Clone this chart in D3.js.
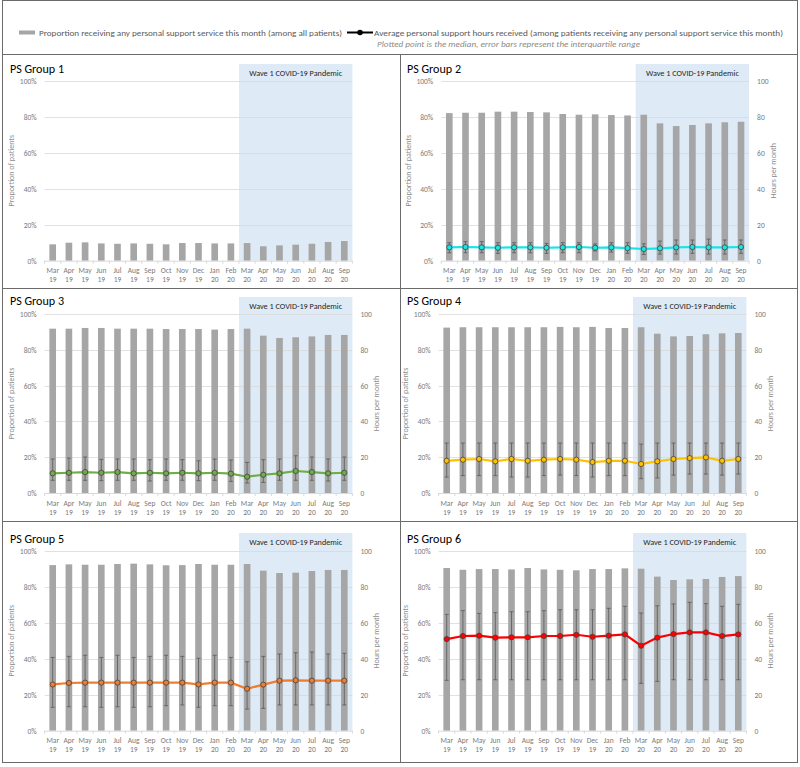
<!DOCTYPE html>
<html>
<head>
<meta charset="utf-8">
<script src="https://cdn.jsdelivr.net/npm/d3@7"></script>
<style>
  html, body { margin: 0; padding: 0; background: #fff; }
  svg { display: block; font-family: Carlito, Lato, "Open Sans", sans-serif; }
</style>
</head>
<body>
<svg id="chart" width="800" height="767"></svg>
<script>
// ---------------- DATA ----------------
const months = ["Mar","Apr","May","Jun","Jul","Aug","Sep","Oct","Nov","Dec","Jan","Feb","Mar","Apr","May","Jun","Jul","Aug","Sep"];
const years  = ["19","19","19","19","19","19","19","19","19","19","20","20","20","20","20","20","20","20","20"];
const pandemicStart = 12; // index of "Mar 20"

const groupNames = ["PS Group 1","PS Group 2","PS Group 3","PS Group 4","PS Group 5","PS Group 6"];
const lineColors = [null, "#19e3e3", "#70ad47", "#ffc000", "#ed7d31", "#ff0000"];

const g1Prop = [9.1,10.0,10.2,9.6,9.4,9.6,9.4,9.1,9.8,9.8,9.6,9.6,9.8,8.0,8.5,8.9,9.4,10.4,10.9];
const g2Prop = [82.0,82.2,82.2,82.8,82.8,82.6,82.4,81.5,81.1,81.3,80.9,80.7,81.1,76.3,74.8,75.4,76.3,76.9,77.2];
const g3Prop = [91.8,91.8,92.2,92.2,91.8,91.8,91.8,91.6,91.6,91.6,91.3,91.6,91.8,87.9,86.6,87.0,87.5,88.3,88.3];
const g4Prop = [92.4,92.6,92.6,92.6,92.6,92.6,92.6,92.8,92.6,92.8,92.2,92.2,92.6,89.0,87.5,87.7,88.7,89.2,89.4];
const g5Prop = [92.0,92.4,92.2,92.2,92.6,92.8,92.4,91.9,92.0,92.6,92.2,92.2,92.6,88.9,87.6,87.8,88.7,89.3,89.3];
const g6Prop = [90.4,89.4,89.8,89.8,89.6,90.4,89.6,89.4,89.1,89.8,89.8,90.2,90.0,85.6,83.7,84.1,84.3,85.4,85.9];

const g2Median = [7.4,7.6,7.4,7.2,7.4,7.4,7.2,7.4,7.6,7.2,7.4,7.0,6.5,6.9,7.4,7.6,7.4,7.4,7.6];
const g2Q3     = [10.0,10.6,10.6,10.0,10.0,10.0,9.6,10.0,10.0,9.3,10.0,10.0,9.4,10.9,11.5,11.5,12.0,11.5,11.5];
const g2Q1     = [4.4,4.4,4.4,4.1,4.4,4.4,4.1,4.4,4.4,5.4,4.8,4.1,3.5,3.7,3.7,4.1,3.7,3.7,4.1];

const g3Median = [11.0,11.3,11.7,11.3,11.7,11.0,11.3,11.0,11.3,11.0,11.3,10.8,9.1,10.2,11.0,12.3,11.7,11.0,11.3];
const g3Q3     = [19.0,19.5,20.1,18.8,19.0,19.0,18.6,19.0,18.6,18.0,19.0,18.4,17.1,18.6,19.0,20.8,20.1,19.0,20.1];
const g3Q1     = [7.1,7.1,7.1,6.9,7.1,7.1,6.7,7.1,7.1,6.9,7.1,6.5,5.6,5.9,7.1,7.1,7.1,6.7,7.1];

const g4Median = [18.0,18.6,19.0,17.7,19.0,18.0,18.6,19.0,18.6,17.3,18.0,18.0,16.2,17.7,19.0,19.5,19.9,18.0,19.0];
const g4Q3     = [27.9,27.9,27.9,27.9,27.9,27.9,27.9,27.9,27.9,27.9,27.9,27.9,27.3,27.9,27.9,27.9,27.9,27.9,27.9];
const g4Q1     = [8.9,9.7,9.7,9.7,8.9,8.9,9.7,10.0,9.7,8.9,9.7,9.7,8.0,8.4,10.0,10.6,10.6,10.0,10.6];

const g5Median = [25.7,26.5,26.7,26.7,26.7,26.7,26.7,26.7,26.7,25.7,26.7,26.7,23.3,25.6,27.8,28.0,27.8,27.8,27.8];
const g5Q3     = [40.7,41.3,41.9,40.7,41.9,40.7,41.3,41.9,41.3,40.2,41.9,40.7,38.3,41.3,42.6,43.3,43.7,42.6,43.0];
const g5Q1     = [13.0,13.3,13.3,13.0,13.3,13.0,13.3,13.9,14.3,13.0,13.9,13.9,12.0,12.4,14.3,14.3,14.3,14.3,14.3];

const g6Median = [50.9,52.6,52.8,51.7,51.9,51.9,52.6,52.6,53.3,52.2,52.8,53.5,47.2,51.7,53.7,54.6,54.6,52.6,53.5];
const g6Q3     = [64.6,66.7,65.2,65.6,66.1,66.1,66.7,67.2,67.2,67.2,68.0,69.1,65.4,69.4,70.4,71.3,70.6,69.1,70.2];
const g6Q1     = [28.0,28.3,28.3,28.3,28.3,28.3,28.3,28.3,28.3,28.3,28.3,28.3,26.3,27.4,28.3,28.3,28.3,28.3,28.3];

const propTicks = [0,20,40,60,80,100];
const hourTicks = [0,20,40,60,80,100];

const props   = [g1Prop, g2Prop, g3Prop, g4Prop, g5Prop, g6Prop];
const medians = [null, g2Median, g3Median, g4Median, g5Median, g6Median];
const q3s     = [null, g2Q3, g3Q3, g4Q3, g5Q3, g6Q3];
const q1s     = [null, g2Q1, g3Q1, g4Q1, g5Q1, g6Q1];

// ---------------- LAYOUT ----------------
const layout = [
  {cx:3,   x0:44.6,  x1:352.4, y0:260.7, y1:80.7, shadeTop:64,  titleY:73,  leftTitleX:14,  rightTitleX:null},
  {cx:400, x0:441.2, x1:749.1, y0:260.7, y1:80.7, shadeTop:64,  titleY:73,  leftTitleX:411, rightTitleX:776},
  {cx:3,   x0:44.6,  x1:352.4, y0:493,   y1:314,  shadeTop:297, titleY:305, leftTitleX:14,  rightTitleX:379},
  {cx:400, x0:438.6, x1:746.4, y0:493,   y1:314,  shadeTop:297, titleY:305, leftTitleX:408, rightTitleX:773},
  {cx:3,   x0:44.6,  x1:352.4, y0:730.7, y1:550.7,shadeTop:533, titleY:543, leftTitleX:14,  rightTitleX:379},
  {cx:400, x0:438.6, x1:746.4, y0:730.7, y1:550.7,shadeTop:533, titleY:543, leftTitleX:408, rightTitleX:773}
];

const svg = d3.select("#chart");
const keys = months.map((m,i) => m + " " + years[i]);
const txt = "#595959", grid = "#d9d9d9", border = "#6b6b6b", tickCol = "#7a7a7a";

// outer frame and dividers
svg.append("rect").attr("x",2.5).attr("y",0.5).attr("width",795).attr("height",762)
   .attr("fill","none").attr("stroke",border).attr("stroke-width",1);
[54.5, 288.5, 521.5].forEach(yy =>
  svg.append("line").attr("x1",2.5).attr("x2",797.5).attr("y1",yy).attr("y2",yy).attr("stroke",border));
svg.append("line").attr("x1",400.5).attr("x2",400.5).attr("y1",54.5).attr("y2",762.5).attr("stroke",border);

// legend
const leg = svg.append("g");
leg.append("rect").attr("x",19).attr("y",30.5).attr("width",16).attr("height",4).attr("fill","#a6a6a6");
leg.append("text").attr("x",39).attr("y",35.5).attr("font-size",8.5).attr("fill",txt)
   .attr("textLength",303).attr("lengthAdjust","spacingAndGlyphs")
   .text("Proportion receiving any personal support service this month (among all patients)");
leg.append("line").attr("x1",347).attr("x2",373).attr("y1",32.5).attr("y2",32.5).attr("stroke","#000").attr("stroke-width",2);
leg.append("circle").attr("cx",360).attr("cy",32.5).attr("r",2.8).attr("fill","#000");
leg.append("text").attr("x",374).attr("y",35.5).attr("font-size",8.5).attr("fill",txt)
   .attr("textLength",409).attr("lengthAdjust","spacingAndGlyphs")
   .text("Average personal support hours received (among patients receiving any personal support service this month)");
leg.append("text").attr("x",377).attr("y",47).attr("font-size",8).attr("font-style","italic").attr("fill","#8c8c8c")
   .attr("textLength",263).attr("lengthAdjust","spacingAndGlyphs")
   .text("Plotted point is the median, error bars represent the interquartile range");

// panels
layout.forEach((L, gi) => {
  const g = svg.append("g");
  const x = d3.scaleBand().domain(keys).range([L.x0, L.x1]).paddingInner(0.59).paddingOuter(0.295);
  const xb = d3.scaleBand().domain(keys).range([L.x0, L.x1]);
  const yP = d3.scaleLinear().domain([0,100]).range([L.y0, L.y1]);
  const yH = d3.scaleLinear().domain([0,100]).range([L.y0, L.y1]);

  // pandemic shading
  const sx = xb(keys[pandemicStart]);
  g.append("rect").attr("x",sx).attr("y",L.shadeTop).attr("width",L.x1 - sx).attr("height",L.y0 - L.shadeTop)
   .attr("fill","#deebf7");
  g.append("text").attr("x",(sx + L.x1)/2).attr("y",L.shadeTop + 11.5).attr("text-anchor","middle")
   .attr("font-size",9).attr("fill","#262626").attr("textLength",93).attr("lengthAdjust","spacingAndGlyphs")
   .text("Wave 1 COVID-19 Pandemic");

  // gridlines
  g.selectAll("line.grid").data(propTicks.slice(1)).enter().append("line").attr("class","grid")
   .attr("x1",L.x0).attr("x2",L.x1).attr("y1",d=>Math.round(yP(d))+0.5).attr("y2",d=>Math.round(yP(d))+0.5)
   .attr("stroke",grid).attr("stroke-width",0.8);

  // left axis
  const la = g.append("g").attr("transform",`translate(${L.x0},0)`)
    .call(d3.axisLeft(yP).tickValues(propTicks).tickFormat(d=>d+"%").tickSize(0).tickPadding(8));
  la.select(".domain").remove();
  la.selectAll("text").attr("fill",tickCol).attr("font-size",7.5).attr("font-family","Carlito, Lato, sans-serif");

  // right axis
  if (medians[gi]) {
    const ra = g.append("g").attr("transform",`translate(${L.x1},0)`)
      .call(d3.axisRight(yH).tickValues(hourTicks).tickSize(0).tickPadding(8));
    ra.select(".domain").remove();
    ra.selectAll("text").attr("fill",tickCol).attr("font-size",7.5).attr("font-family","Carlito, Lato, sans-serif");
    g.append("text").attr("transform",`translate(${L.rightTitleX},${(L.y0+L.y1)/2}) rotate(-90)`)
     .attr("text-anchor","middle").attr("font-size",8).attr("fill","#8c8c8c").text("Hours per month");
  }
  g.append("text").attr("transform",`translate(${L.leftTitleX},${(L.y0+L.y1)/2}) rotate(-90)`)
   .attr("text-anchor","middle").attr("font-size",8).attr("fill","#8c8c8c").text("Proportion of patients");

  // bars
  g.selectAll("rect.bar").data(props[gi]).enter().append("rect").attr("class","bar")
   .attr("x",(d,i)=>x(keys[i])).attr("width",x.bandwidth())
   .attr("y",d=>yP(d)).attr("height",d=>L.y0 - yP(d)).attr("fill","#a6a6a6");

  // x axis line and ticks
  g.append("line").attr("x1",L.x0).attr("x2",L.x1).attr("y1",L.y0+0.5).attr("y2",L.y0+0.5).attr("stroke",grid);
  g.selectAll("line.xt").data(keys.concat(["end"])).enter().append("line").attr("class","xt")
   .attr("x1",(d,i)=> i<keys.length ? xb(d) : L.x1).attr("x2",(d,i)=> i<keys.length ? xb(d) : L.x1)
   .attr("y1",L.y0).attr("y2",L.y0+3).attr("stroke",grid);
  const xl = g.selectAll("text.xl").data(keys).enter().append("text").attr("class","xl")
   .attr("x",d=>xb(d)+xb.bandwidth()/2).attr("text-anchor","middle").attr("font-size",7.5).attr("fill",tickCol);
  xl.append("tspan").attr("x",d=>xb(d)+xb.bandwidth()/2).attr("y",L.y0+12.5).text((d,i)=>months[i]);
  xl.append("tspan").attr("x",d=>xb(d)+xb.bandwidth()/2).attr("y",L.y0+21.5).text((d,i)=>years[i]);

  // title
  g.append("text").attr("x",L.cx+7).attr("y",L.titleY).attr("font-size",13).attr("fill","#000")
   .attr("textLength",54).attr("lengthAdjust","spacingAndGlyphs").text(groupNames[gi]);

  // hours line
  if (medians[gi]) {
    const cxf = i => xb(keys[i]) + xb.bandwidth()/2;
    const med = medians[gi], hi = q3s[gi], lo = q1s[gi];
    const eb = g.append("g").attr("stroke","#595959").attr("stroke-width",0.8);
    med.forEach((d,i) => {
      eb.append("line").attr("x1",cxf(i)).attr("x2",cxf(i)).attr("y1",yH(hi[i])).attr("y2",yH(lo[i]));
      eb.append("line").attr("x1",cxf(i)-2).attr("x2",cxf(i)+2).attr("y1",yH(hi[i])).attr("y2",yH(hi[i]));
      eb.append("line").attr("x1",cxf(i)-2).attr("x2",cxf(i)+2).attr("y1",yH(lo[i])).attr("y2",yH(lo[i]));
    });
    g.append("path").datum(med)
     .attr("d", d3.line().x((d,i)=>cxf(i)).y(d=>yH(d)))
     .attr("fill","none").attr("stroke",lineColors[gi]).attr("stroke-width",2.2);
    g.selectAll("circle.mk").data(med).enter().append("circle").attr("class","mk")
     .attr("cx",(d,i)=>cxf(i)).attr("cy",d=>yH(d)).attr("r",2.6)
     .attr("fill",lineColors[gi]).attr("stroke","#404040").attr("stroke-width",0.8);
  }
});
</script>
</body>
</html>
